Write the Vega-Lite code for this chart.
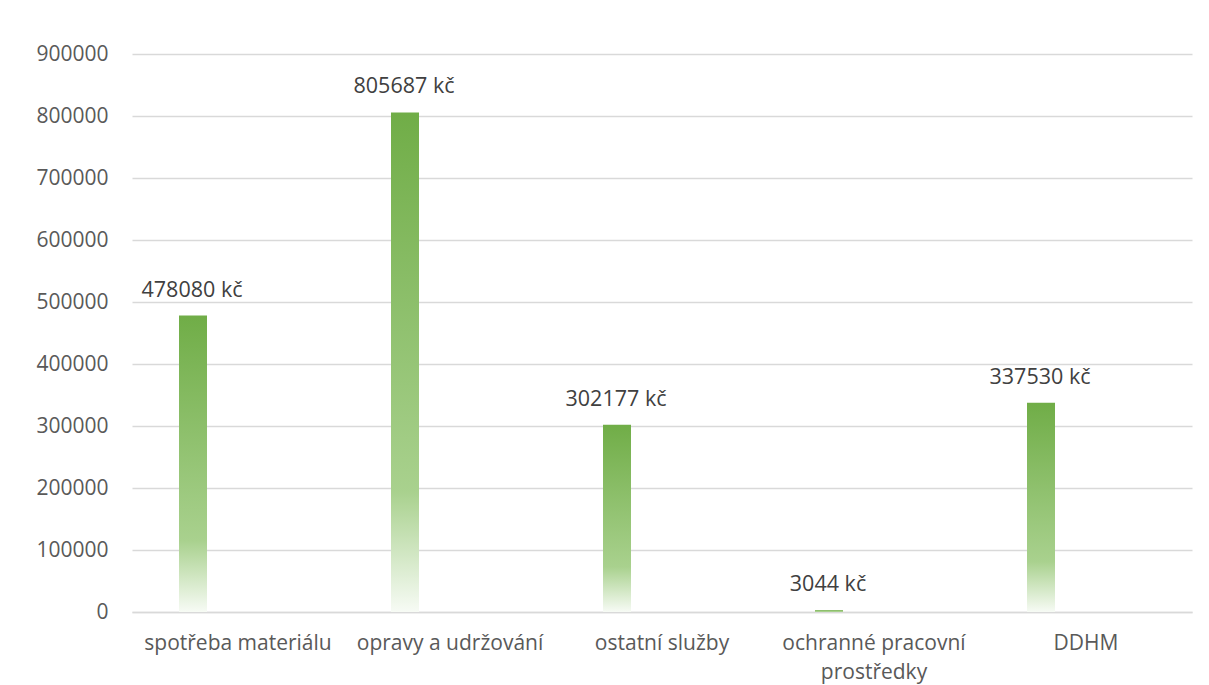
{
  "$schema": "https://vega.github.io/schema/vega-lite/v6.json",
  "width": 1060,
  "height": 558,
  "autosize": "none",
  "padding": {"left": 132, "top": 54, "right": 17, "bottom": 73},
  "background": "white",
  "config": {
    "view": {"stroke": null},
    "font": "Open Sans",
    "axis": {"labelFont": "Open Sans", "labelColor": "#595959", "labelFontSize": 21}
  },
  "data": {
    "values": [
      {"kategorie": "spotřeba materiálu", "hodnota": 478080},
      {"kategorie": "opravy a udržování", "hodnota": 805687},
      {"kategorie": "ostatní služby", "hodnota": 302177},
      {"kategorie": "ochranné pracovní prostředky", "hodnota": 3044},
      {"kategorie": "DDHM", "hodnota": 337530}
    ]
  },
  "transform": [{"calculate": "datum.hodnota + ' kč'", "as": "popisek"}],
  "encoding": {
    "x": {
      "field": "kategorie",
      "type": "nominal",
      "sort": null,
      "scale": {"paddingInner": 0, "paddingOuter": 0},
      "axis": {
        "title": null,
        "labelAngle": 0,
        "ticks": false,
        "domainColor": "#d9d9d9",
        "domainWidth": 1.5,
        "labelPadding": 20,
        "labelBaseline": "top",
        "labelLineHeight": 29,
        "labelLimit": 400,
        "labelExpr": "datum.value == 'ochranné pracovní prostředky' ? ['ochranné pracovní', 'prostředky'] : datum.value"
      }
    },
    "y": {
      "field": "hodnota",
      "type": "quantitative",
      "scale": {"domain": [0, 900000], "nice": false},
      "axis": {
        "title": null,
        "values": [0, 100000, 200000, 300000, 400000, 500000, 600000, 700000, 800000, 900000],
        "format": "d",
        "domain": false,
        "ticks": false,
        "gridColor": "#d9d9d9",
        "gridWidth": 1.5,
        "labelPadding": 24
      }
    }
  },
  "layer": [
    {
      "mark": {
        "type": "bar",
        "width": 28,
        "xOffset": -45,
        "fill": {
          "gradient": "linear",
          "x1": 0, "y1": 0, "x2": 0, "y2": 1,
          "stops": [
            {"offset": 0, "color": "#70AD47"},
            {"offset": 0.76, "color": "#A9D18E"},
            {"offset": 1, "color": "#F7FBF5"}
          ]
        }
      }
    },
    {
      "mark": {
        "type": "text",
        "xOffset": -46,
        "dy": -19,
        "baseline": "alphabetic",
        "fontSize": 21.5,
        "color": "#404040",
        "font": "Open Sans"
      },
      "encoding": {"text": {"field": "popisek"}}
    }
  ]
}
